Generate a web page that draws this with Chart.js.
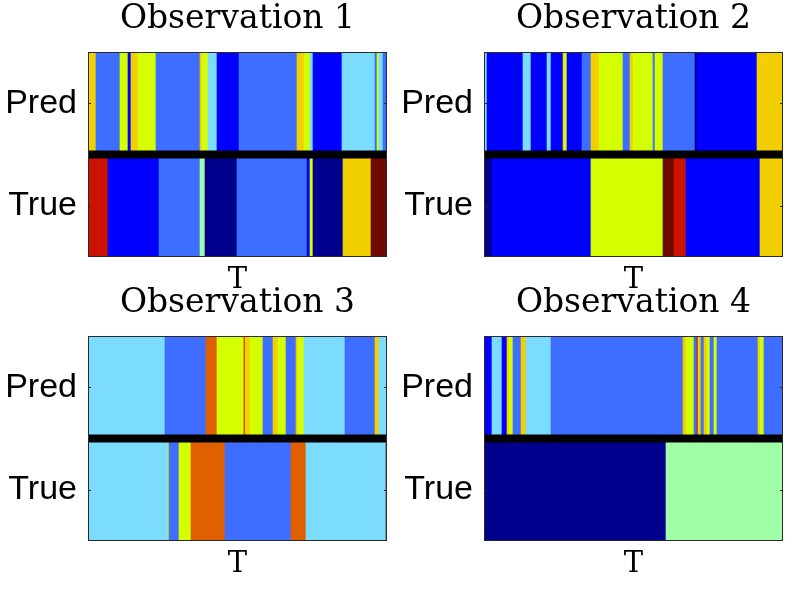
<!DOCTYPE html>
<html>
<head>
<meta charset="utf-8">
<script src="https://cdn.jsdelivr.net/npm/chart.js@4/dist/chart.umd.min.js"></script>
<style>
  body { margin: 0; background: #fff; }
  #wrap { position: relative; width: 794px; height: 590px; overflow: hidden; }
  .panel { position: absolute; }
</style>
</head>
<body>
<div id="wrap">
  <div class="panel" style="left:0;top:0;width:397px;height:300px"><canvas id="c1"></canvas></div>
  <div class="panel" style="left:396px;top:0;width:398px;height:300px"><canvas id="c2"></canvas></div>
  <div class="panel" style="left:0;top:284px;width:397px;height:300px"><canvas id="c3"></canvas></div>
  <div class="panel" style="left:396px;top:284px;width:398px;height:300px"><canvas id="c4"></canvas></div>
</div>
<script>
// rij-labels en tijd-as
const rowLabels = ["Pred", "True"];
const rowTicks = [1, 2];
const tMax = 299;

// segmenten: grenzen op de T-as en toestand per segment
const obs1PredEdges = [0, 1, 8, 32, 40, 43, 50, 68, 112, 114, 120, 129, 151, 209, 216, 222, 225, 254, 287, 289, 291, 295, 299];
const obs1PredStates = [8, 7, 3, 6, 2, 7, 6, 3, 7, 6, 4, 2, 3, 7, 6, 4, 2, 4, 3, 6, 4, 3];
const obs1TrueEdges = [0, 20, 71, 112, 117, 149, 219, 222, 225, 255, 283, 299];
const obs1TrueStates = [9, 2, 3, 5, 1, 3, 2, 6, 1, 7, 10];

const obs2PredEdges = [0, 3, 39, 47, 63, 67, 79, 80, 83, 98, 107, 115, 139, 146, 149, 169, 171, 179, 211, 213, 273, 299];
const obs2PredStates = [4, 2, 4, 2, 4, 2, 7, 6, 2, 3, 7, 6, 3, 7, 6, 3, 6, 3, 1, 2, 7];
const obs2TrueEdges = [0, 8, 107, 179, 190, 202, 276, 299];
const obs2TrueStates = [1, 2, 6, 10, 9, 2, 7];

const obs3PredEdges = [0, 77, 118, 129, 156, 157, 162, 175, 185, 190, 198, 208, 210, 216, 257, 287, 291, 299];
const obs3PredStates = [4, 3, 8, 6, 9, 7, 6, 3, 7, 6, 3, 7, 6, 4, 3, 7, 4];
const obs3TrueEdges = [0, 80, 81, 91, 103, 137, 203, 218, 298, 299];
const obs3TrueStates = [4, 6, 3, 6, 8, 3, 8, 4, 10];

const obs4PredEdges = [0, 8, 18, 23, 25, 29, 37, 42, 67, 199, 202, 210, 213, 214, 217, 220, 223, 226, 230, 233, 274, 276, 280, 299];
const obs4PredStates = [2, 4, 2, 7, 6, 3, 7, 4, 3, 7, 6, 3, 9, 7, 3, 7, 6, 3, 6, 3, 7, 6, 3];
const obs4TrueEdges = [0, 182, 299];
const obs4TrueStates = [1, 5];

const titles = ["Observation 1", "Observation 2", "Observation 3", "Observation 4"];

// jet-achtige kleuren per toestand (1..10)
const palette = [null, '#00008c', '#0000ff', '#3d6eff', '#7cdcff', '#a0ffa6',
                 '#d4ff00', '#f2cf00', '#e06000', '#cc1200', '#6e0a00'];

function segmenten(edges, states, row) {
    return states.map((s, i) => ({ x: [edges[i], edges[i + 1]], y: row, s: s }));
}

const kader = {
    id: 'kader',
    afterDatasetsDraw(chart) {
        const a = chart.chartArea;
        const ctx = chart.ctx;
        const y = chart.scales.y;
        ctx.save();
        ctx.strokeStyle = '#2a2a2a';
        ctx.lineWidth = 1;
        ctx.strokeRect(a.left + 0.5, a.top + 0.5, a.right - a.left - 1, a.bottom - a.top - 1);
        // kleine tickstreepjes binnen het kader, links en rechts
        rowTicks.forEach(v => {
            const py = Math.round(y.getPixelForValue(v)) + 0.5;
            ctx.beginPath();
            ctx.moveTo(a.left, py); ctx.lineTo(a.left + 3, py);
            ctx.moveTo(a.right - 3, py); ctx.lineTo(a.right, py);
            ctx.stroke();
        });
        ctx.restore();
    }
};

function maakPaneel(id, titel, predE, predS, trueE, trueS, padRight) {
    const data = segmenten(predE, predS, 1).concat(segmenten(trueE, trueS, 2));
    new Chart(document.getElementById(id), {
        data: {
            datasets: [
                {
                    type: 'line',
                    data: [{ x: 0, y: 1.5 }, { x: tMax, y: 1.5 }],
                    borderColor: '#000',
                    borderWidth: 8,
                    pointRadius: 0,
                    order: 0
                },
                {
                    type: 'bar',
                    indexAxis: 'y',
                    data: data,
                    backgroundColor: data.map(d => palette[d.s]),
                    borderWidth: 0,
                    barPercentage: 1,
                    categoryPercentage: 1,
                    order: 1
                }
            ]
        },
        options: {
            responsive: true,
            maintainAspectRatio: false,
            animation: false,
            layout: { padding: { left: 0, right: padRight, top: 0, bottom: 0 } },
            plugins: {
                legend: { display: false },
                tooltip: { enabled: false },
                title: {
                    display: true,
                    fullSize: false,
                    text: titel,
                    color: '#000',
                    font: { family: 'DejaVu Serif', size: 33, weight: 'normal', lineHeight: 1.2 },
                    padding: { top: 0, bottom: 12.4 }
                }
            },
            scales: {
                x: {
                    type: 'linear',
                    min: 0,
                    max: tMax,
                    ticks: { display: false },
                    grid: { display: false, drawTicks: false },
                    border: { display: false },
                    title: {
                        display: true,
                        text: 'T',
                        color: '#000',
                        font: { family: 'DejaVu Serif', size: 29, weight: 'normal', lineHeight: 1.2 },
                        padding: { top: 0, bottom: 2 }
                    },
                    afterFit(s) { s.height = 43; }
                },
                y: {
                    type: 'linear',
                    reverse: true,
                    offset: false,
                    min: 0.5,
                    max: 2.5,
                    afterBuildTicks(s) { s.ticks = rowTicks.map(v => ({ value: v })); },
                    ticks: {
                        color: '#000',
                        padding: 11,
                        font: { family: 'Liberation Sans', size: 34 },
                        callback: v => rowLabels[rowTicks.indexOf(v)]
                    },
                    grid: { display: false, drawTicks: false, offset: false },
                    border: { display: false },
                    afterFit(s) { s.width = 88; }
                }
            }
        },
        plugins: [kader]
    });
}

maakPaneel('c1', titles[0], obs1PredEdges, obs1PredStates, obs1TrueEdges, obs1TrueStates, 10);
maakPaneel('c2', titles[1], obs2PredEdges, obs2PredStates, obs2TrueEdges, obs2TrueStates, 11);
maakPaneel('c3', titles[2], obs3PredEdges, obs3PredStates, obs3TrueEdges, obs3TrueStates, 10);
maakPaneel('c4', titles[3], obs4PredEdges, obs4PredStates, obs4TrueEdges, obs4TrueStates, 11);
</script>
</body>
</html>
